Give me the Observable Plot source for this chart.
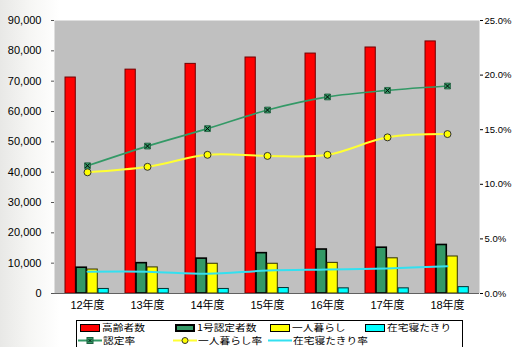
<!DOCTYPE html>
<html><head><meta charset="utf-8">
<script src="https://cdn.jsdelivr.net/npm/d3@7"></script>
<script src="https://cdn.jsdelivr.net/npm/@observablehq/plot@0.6"></script>
<style>
body{margin:0;width:512px;height:347px;overflow:hidden;background:linear-gradient(to right,#e8e8e6 0px,#f6f6f4 30px,#ffffff 60px);font-family:"Noto Sans CJK JP","Noto Sans",sans-serif;}
#chart svg{display:block;background:transparent;}
#legend{position:absolute;left:76px;top:320px;width:387px;height:30px;border:1px solid #000;background:#fff;box-sizing:border-box;padding-top:0px;}
.row{display:flex;height:13px;}
.item{display:flex;align-items:center;white-space:nowrap;height:13px;}
.sw{display:inline-block;width:18px;height:6px;border:1px solid #000;margin:0 2px 0 3px;flex:none;}
.lbl{display:inline-block;font-size:10.5px;line-height:13px;transform:scale(1.02,0.85);transform-origin:left center;}
</style></head>
<body>
<div id="chart"></div>
<div id="legend"></div>
<script>
const years = ["12年度","13年度","14年度","15年度","16年度","17年度","18年度"];
const elderly   = [71200, 73800, 75700, 77800, 79100, 81100, 83100];
const certified = [8500, 10000, 11500, 13300, 14500, 15100, 16000];
const alone     = [7900, 8600, 9800, 9800, 10100, 11600, 12200];
const bedridden = [1500, 1500, 1500, 1800, 1700, 1700, 2100];
const rateCert  = [11.7, 13.5, 15.1, 16.8, 18.0, 18.6, 19.0];
const rateAlone = [11.1, 11.6, 12.7, 12.6, 12.7, 14.3, 14.6];
const rateBed   = [2.0, 2.0, 1.8, 2.1, 2.2, 2.3, 2.5];
const leftTicks = [0,10000,20000,30000,40000,50000,60000,70000,80000,90000];
const rightTicks = [0,5,10,15,20,25];

const barSeries = [
  {name:"高齢者数", values:elderly, fill:"#ff0000", stroke:"#700000", sw:1},
  {name:"1号認定者数", values:certified, fill:"#339966", stroke:"#000000", sw:1.6},
  {name:"一人暮らし", values:alone, fill:"#ffff00", stroke:"#333300", sw:1},
  {name:"在宅寝たきり", values:bedridden, fill:"#00ffff", stroke:"#003333", sw:1}
];
const lineSeries = [
  {name:"認定率", values:rateCert, color:"#339966", marker:"sq"},
  {name:"一人暮らし率", values:rateAlone, color:"#ffff33", marker:"ci"},
  {name:"在宅寝たきり率", values:rateBed, color:"#33e0f0", marker:""}
];
const K = 90000/25; // percent -> left scale
const W = 512, mL = 54, mR = 33, mT = 20, mB = 25, H = 318;
const bw = (W - mL - mR) / years.length;
const barW = 11, pad = 8;

const marks = [ Plot.frame({fill:"#c0c0c0"}) ];
barSeries.forEach((s,i)=>{
  const data = years.map((y,j)=>({year:y, v:s.values[j]}));
  marks.push(Plot.barY(data,{x:"year", y:"v", fill:s.fill, stroke:s.stroke, strokeWidth:s.sw,
    insetLeft: pad + i*barW, insetRight: bw - pad - (i+1)*barW}));
});
const lineData = (arr)=>years.map((y,j)=>({year:y, v:arr[j]*K}));
marks.push(
  Plot.line(lineData(rateBed),{x:"year", y:"v", stroke:"#33e0f0", strokeWidth:2, curve:"catmull-rom"}),
  Plot.line(lineData(rateAlone),{x:"year", y:"v", stroke:"#ffff33", strokeWidth:2, curve:"catmull-rom"}),
  Plot.dot(lineData(rateAlone),{x:"year", y:"v", r:3.5, fill:"#ffff00", stroke:"#333333", strokeWidth:1}),
  Plot.line(lineData(rateCert),{x:"year", y:"v", stroke:"#339966", strokeWidth:1.7, curve:"catmull-rom"}),
  Plot.dot(lineData(rateCert),{x:"year", y:"v", symbol:"square", r:3.3, fill:"#339966", stroke:"#1f5f3f", strokeWidth:0.8}),
  Plot.dot(lineData(rateCert),{x:"year", y:"v", symbol:"times", r:2.2, stroke:"#000", strokeWidth:1}),
  Plot.axisY({anchor:"left", label:null, ticks:leftTicks, tickFormat:d3.format(","), tickSize:3, tickPadding:10, fontSize:11, stroke:"#555"}),
  Plot.axisY({anchor:"right", label:null, ticks:rightTicks.map(p=>p*K), tickFormat:v=>(v/K).toFixed(1)+"%", tickSize:3, tickPadding:2, fontSize:9.5}),
  Plot.axisX({label:null, tickSize:0, tickPadding:8, fontSize:11}),
  Plot.ruleY([0],{stroke:"#606060"})
);

const chart = Plot.plot({
  width:W, height:H, marginLeft:mL, marginRight:mR, marginTop:mT, marginBottom:mB,
  style:{fontFamily:"'Liberation Sans','Noto Sans CJK JP',sans-serif", fontSize:"11px", color:"#000", background:"transparent"},
  x:{domain:years, padding:0, axis:null},
  y:{domain:[0,90000], axis:null},
  marks
});
document.getElementById("chart").appendChild(chart);

const lg = document.getElementById("legend");
function lineSw(color, marker){
  let m = "";
  if(marker==="sq") m = '<rect x="9" y="2.5" width="6" height="6" fill="#339966" stroke="#1f5f3f"/><path d="M10.5 4l3 3M13.5 4l-3 3" stroke="#000" stroke-width="0.8"/>';
  if(marker==="ci") m = '<circle cx="12" cy="5.5" r="3" fill="#ffff00" stroke="#333"/>';
  return `<svg width="24" height="11" style="margin:0 1px 0 1px;flex:none"><line x1="0" y1="5.5" x2="24" y2="5.5" stroke="${color}" stroke-width="2"/>${m}</svg>`;
}
const colW = 95;
const row1 = barSeries.map((s,i)=>`<div class="item" style="width:${colW}px"><span class="sw" style="background:${s.fill};${i===1?'border-width:2px;height:4px;width:16px;':''}"></span><span class="lbl">${s.name}</span></div>`).join("");
const row2 = lineSeries.map(d=>`<div class="item" style="width:${colW}px">${lineSw(d.color,d.marker)}<span class="lbl">${d.name}</span></div>`).join("");
lg.innerHTML = `<div class="row">${row1}</div><div class="row">${row2}</div>`;
</script>
</body></html>
